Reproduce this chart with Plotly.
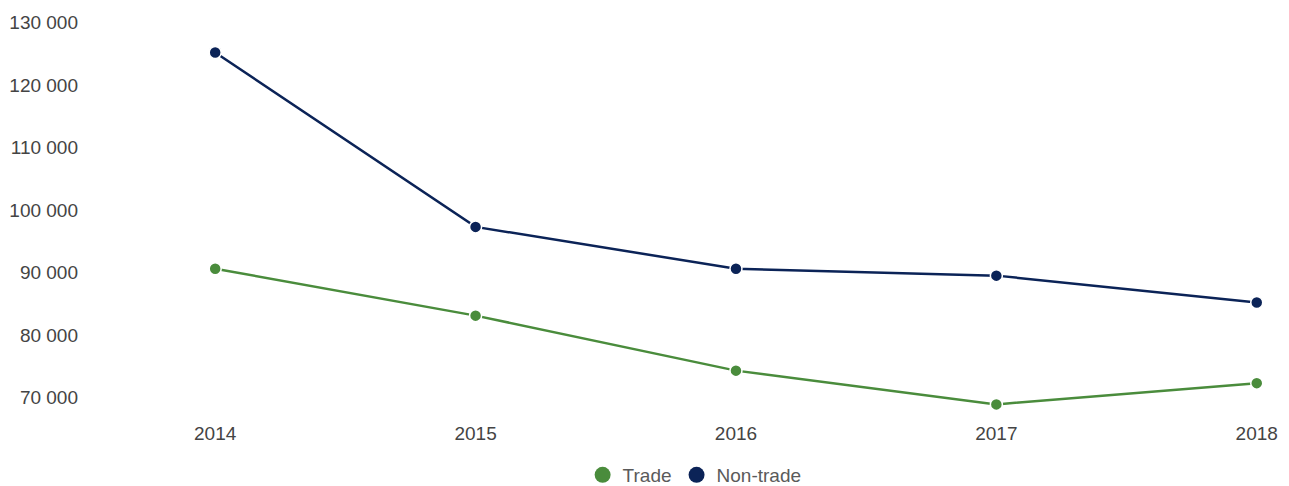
import plotly.graph_objects as go

years = [2014, 2015, 2016, 2017, 2018]
trade = [90600, 83100, 74300, 68900, 72300]
non_trade = [125200, 97300, 90600, 89500, 85200]
ytick_vals = [70000, 80000, 90000, 100000, 110000, 120000, 130000]
ytick_text = ["\u200770 000", "\u200780 000", "\u200790 000", "100 000", "110 000", "120 000", "130 000"]

GREEN = "#4a8c3c"
NAVY = "#0b2357"
FONT = "Liberation Sans, Arial, sans-serif"

fig = go.Figure()
for name, vals, col in [("Trade", trade, GREEN), ("Non-trade", non_trade, NAVY)]:
    fig.add_trace(go.Scatter(x=years, y=vals, name=name, mode="lines+markers", showlegend=False,
                             line=dict(color=col, width=2.5),
                             marker=dict(size=12, color=col, line=dict(color="white", width=1.5))))
for name, col in [("Trade", GREEN), ("Non-trade", NAVY)]:
    fig.add_trace(go.Scatter(x=[None], y=[None], name=name, mode="markers",
                             marker=dict(size=20, color=col)))

fig.update_layout(
    width=1281, height=478,
    margin=dict(l=77, r=0.5, t=1.5, b=75.5),
    paper_bgcolor="white", plot_bgcolor="white",
    font=dict(family=FONT, size=19, color="#444"),
    showlegend=True,
    legend=dict(orientation="h", x=0.536, xanchor="center", xref="container",
                y=0.023, yanchor="middle", yref="container",
                font=dict(size=19, color="#5a5a5a"), itemsizing="trace"),
    xaxis=dict(range=[2013.5, 2018.12], tickvals=years, showgrid=False, zeroline=False,
               showline=False, ticks="", ticklabelstandoff=10, automargin=False),
    yaxis=dict(range=[68000, 132000], tickvals=ytick_vals, ticktext=ytick_text,
               showgrid=False, zeroline=False, showline=False, ticks="", ticklabelstandoff=6,
               automargin=False),
)
fig.write_html("out.html")
